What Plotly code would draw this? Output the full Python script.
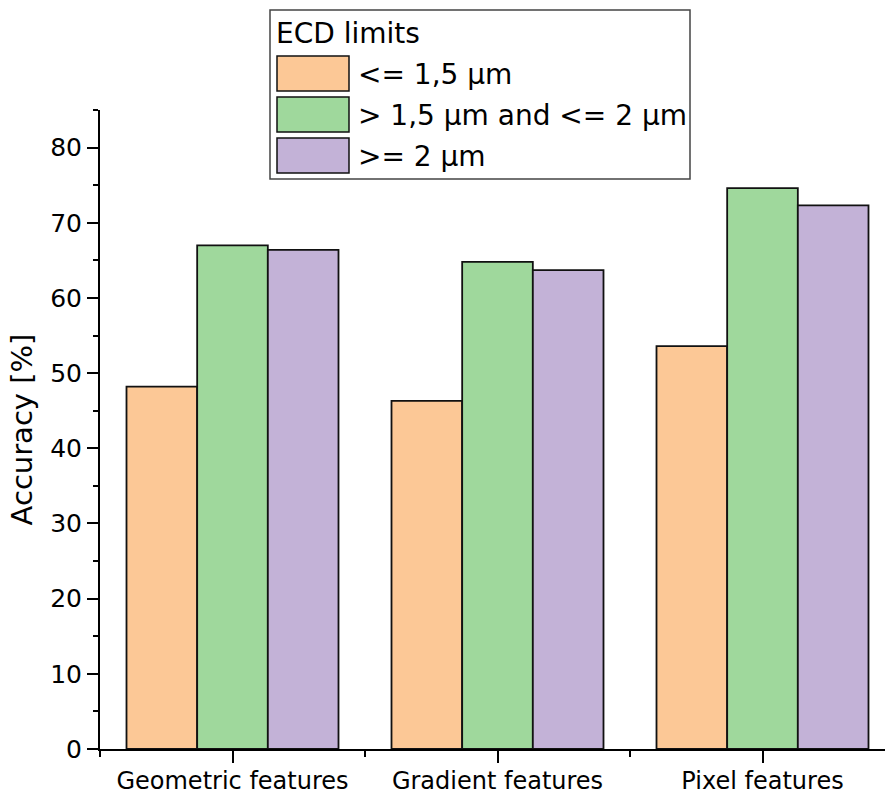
import plotly.graph_objects as go

# Feature groups on the x axis
categories = ["Geometric features", "Gradient features", "Pixel features"]

# ECD size classes (legend entries) and their accuracies in %
series_names = ["<= 1,5 µm", "> 1,5 µm and <= 2 µm", ">= 2 µm"]
acc_small = [48.2, 46.3, 53.6]
acc_medium = [67.0, 64.8, 74.6]
acc_large = [66.4, 63.7, 72.3]

series_values = [acc_small, acc_medium, acc_large]
colors = ["#FCC896", "#9FD89C", "#C3B2D7"]

FONT = "DejaVu Sans"
W, H = 885, 794
L, R, T, B = 100, 0, 110, 45

fig = go.Figure()
xpos = list(range(len(categories)))
for name, vals, col in zip(series_names, series_values, colors):
    fig.add_trace(go.Bar(
        x=xpos, y=vals, name=name, showlegend=False,
        marker=dict(color=col, line=dict(color="#111111", width=1.8)),
    ))

# helpers converting page pixels to paper coordinates for the legend box
pw, ph = W - L - R, H - T - B
def px(x):
    return (x - L) / pw
def py(y):
    return (H - B - y) / ph

shapes = [dict(type="rect", xref="paper", yref="paper",
               x0=px(270), x1=px(690), y0=py(179), y1=py(10),
               line=dict(color="#444444", width=1.5), fillcolor="white", layer="above")]
annotations = [dict(text="ECD limits", xref="paper", yref="paper", x=px(274), y=py(33),
                    xanchor="left", yanchor="middle", showarrow=False,
                    font=dict(family=FONT, size=28, color="black"))]
sw_tops = [56, 97, 138]
for name, col, top in zip(series_names, colors, sw_tops):
    shapes.append(dict(type="rect", xref="paper", yref="paper",
                       x0=px(277), x1=px(349), y0=py(top + 35), y1=py(top),
                       line=dict(color="#111111", width=1.5), fillcolor=col, layer="above"))
    annotations.append(dict(text=name, xref="paper", yref="paper", x=px(356), y=py(top + 18),
                            xanchor="left", yanchor="middle", showarrow=False,
                            font=dict(family=FONT, size=28, color="black")))

fig.update_layout(
    width=W, height=H,
    margin=dict(l=L, r=R, t=T, b=B, pad=0),
    paper_bgcolor="white", plot_bgcolor="white",
    barmode="group", bargap=0.2, bargroupgap=0,
    font=dict(family=FONT, color="black"),
    shapes=shapes, annotations=annotations,
    showlegend=False,
)
fig.update_xaxes(
    automargin=False,
    range=[-0.5, -0.5 + pw / 265.0],
    tickmode="array", tickvals=xpos, ticktext=categories,
    ticks="outside", ticklen=12, tickwidth=2, tickcolor="black",
    ticklabelstandoff=-3,
    showline=True, linewidth=2, linecolor="black",
    showgrid=False, zeroline=False,
    tickfont=dict(family=FONT, size=24, color="black"),
    minor=dict(tickmode="array", tickvals=[-0.5, 0.5, 1.5, 2.5],
               ticks="outside", ticklen=6, tickwidth=2, tickcolor="black"),
)
fig.update_yaxes(
    automargin=False,
    range=[0, 85], tickmode="linear", tick0=0, dtick=10,
    ticks="outside", ticklen=11, tickwidth=2, tickcolor="black",
    showline=True, linewidth=2, linecolor="black",
    showgrid=False, zeroline=False,
    tickfont=dict(family=FONT, size=25, color="black"),
    title=dict(text="Accuracy [%]", font=dict(family=FONT, size=29, color="black"), standoff=9),
    minor=dict(tick0=0, dtick=5, ticks="outside", ticklen=5, tickwidth=2, tickcolor="black"),
)

fig.write_html("out.html")
